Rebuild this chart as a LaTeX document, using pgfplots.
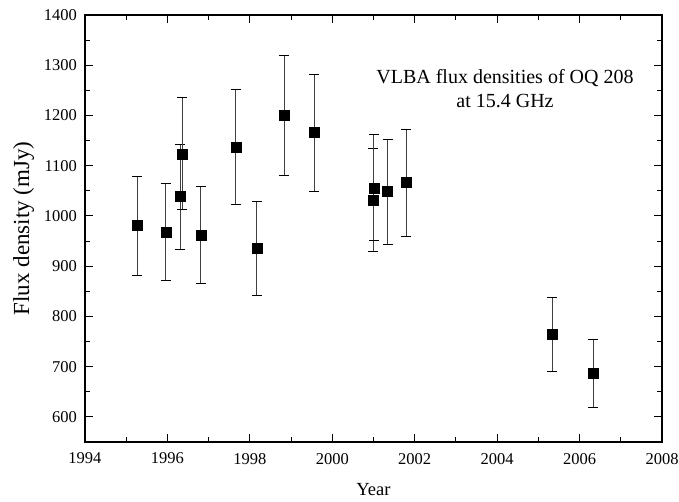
\documentclass[border=0pt]{standalone}
\usepackage{pgfplots}
\pgfplotsset{compat=1.18}
\usepackage{fontspec}
\setmainfont{Liberation Serif}
\begin{document}
\begin{tikzpicture}
\useasboundingbox (-85pt,-60pt) rectangle (594pt,442pt);
\begin{axis}[
  at={(0,0)}, anchor=south west,
  scale only axis,
  width=577pt, height=427pt,
  xmin=1994, xmax=2008, ymin=550, ymax=1400,
  xtick={1994,1996,...,2008},
  minor xtick={1995,1997,...,2007},
  ytick={600,700,...,1400},
  minor ytick={550,650,...,1350},
  tick align=inside,
  major tick length=8pt, minor tick length=5pt,
  axis line style={line width=1.2pt},
  every tick/.style={black, line width=1pt},
  /pgf/number format/assume math mode=true,
  /pgf/number format/1000 sep={},
  tick label style={font=\fontsize{16.5}{19}\selectfont},
  xticklabel style={yshift=-7.5pt},
  yticklabel style={xshift=-4.5pt},
  xlabel={Year}, ylabel={Flux density (mJy)},
  xlabel style={font=\fontsize{18.5}{22}\selectfont, yshift=-12pt},
  ylabel style={font=\fontsize{23}{26}\selectfont, yshift=3pt},
]
\addplot[only marks, mark=square*, mark size=5pt, mark options={black},
  error bars/.cd, y dir=both, y explicit,
  error bar style={line width=0.9pt, black!75},
  error mark options={rotate=90, mark size=5pt, line width=1pt, black}]
  table[x=x, y=y, y error plus=ep, y error minus=em] {
x y ep em
1995.27 981 97 99
1995.96 967 98 96
1996.31 1039 103 105
1996.36 1123 112 111
1996.81 962 96 97
1997.66 1137 114 114
1998.17 936 93 94
1998.83 1200 120 120
1999.56 1166 115 118
2000.99 1032 103 103
2001.01 1056 106 104
2001.34 1049 103 106
2001.80 1067 105 107
2005.33 765 73 74
2006.33 686 69 68
};
\node[align=center, font=\fontsize{20}{24}\selectfont] at (axis cs:2004.19,1254) {VLBA flux densities of OQ 208\\at 15.4 GHz};
\end{axis}
\end{tikzpicture}
\end{document}
